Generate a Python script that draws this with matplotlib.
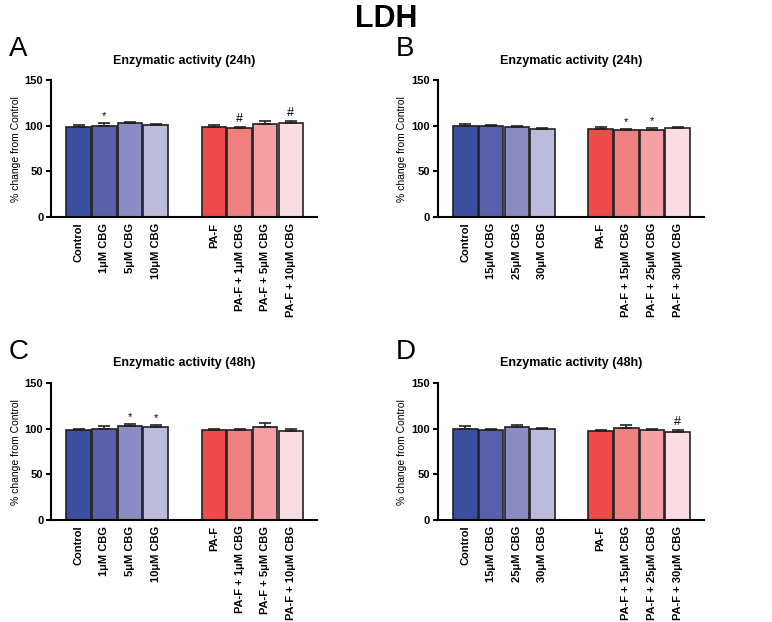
import matplotlib
matplotlib.use("Agg")
import matplotlib.pyplot as plt

plt.rcParams['font.family'] = 'Liberation Sans'
plt.rcParams['font.weight'] = 'bold'

labels_A = ["Control", "1μM CBG", "5μM CBG", "10μM CBG", "PA-F", "PA-F + 1μM CBG", "PA-F + 5μM CBG", "PA-F + 10μM CBG"]
labels_B = ["Control", "15μM CBG", "25μM CBG", "30μM CBG", "PA-F", "PA-F + 15μM CBG", "PA-F + 25μM CBG", "PA-F + 30μM CBG"]

vals_A = [99, 100, 103, 101, 99, 97.5, 102, 103]
err_A = [2, 3, 1, 1.5, 2, 1, 3, 2]
mark_A = ["", "*", "", "", "", "#", "", "#"]

vals_B = [100, 100, 98.5, 97, 97, 96, 96, 97.5]
err_B = [2, 1, 1, 1, 2, 1, 2, 1]
mark_B = ["", "", "", "", "", "*", "*", ""]

vals_C = [99, 100, 103, 102, 99, 99, 102, 98]
err_C = [1, 3, 2, 2, 1, 1, 4, 2]
mark_C = ["", "", "*", "*", "", "", "", ""]

vals_D = [100, 99, 102, 100, 98, 101, 99, 97]
err_D = [3, 1, 2, 1, 1, 3, 1, 1.5]
mark_D = ["", "", "", "", "", "", "", "#"]

colors = ["#3a4fa0", "#5a5fab", "#8a8cc2", "#bbbcdc", "#ee4a4a", "#f08080", "#f5a0a5", "#fadde0"]
pos = [0, 1, 2, 3, 5.27, 6.27, 7.27, 8.27]

fig = plt.figure(figsize=(7.72, 6.22), dpi=100)
fig.text(0.5, 0.97, "LDH", ha='center', va='center', fontsize=22, fontweight='bold')

panels = [
    ("A", "Enzymatic activity (24h)", labels_A, vals_A, err_A, mark_A, 0.066, 0.651),
    ("B", "Enzymatic activity (24h)", labels_B, vals_B, err_B, mark_B, 0.567, 0.651),
    ("C", "Enzymatic activity (48h)", labels_A, vals_C, err_C, mark_C, 0.066, 0.164),
    ("D", "Enzymatic activity (48h)", labels_B, vals_D, err_D, mark_D, 0.567, 0.164),
]
for letter, title, labels, vals, errs, marks, l, b in panels:
    ax = fig.add_axes([l, b, 0.345, 0.22])
    ax.bar(pos, vals, width=0.95, color=colors, edgecolor='#222222', linewidth=1.2)
    ax.errorbar(pos, vals, yerr=[[0]*8, errs], fmt='none', ecolor='#222222', capsize=4, elinewidth=1.2, capthick=1.2)
    for p, v, e, m in zip(pos, vals, errs, marks):
        if m:
            ax.text(p, v + e + 2, m, ha='center', va='bottom', fontsize=9 if m == '#' else 8, fontweight='normal')
    ax.set_xlim(-1.08, 9.3)
    ax.set_ylim(0, 150)
    ax.set_yticks([0, 50, 100, 150])
    ax.set_xticks(pos)
    ax.set_xticklabels(labels, rotation=90, fontsize=8)
    ax.tick_params(axis='x', length=0, pad=4)
    ax.tick_params(axis='y', labelsize=8, width=1.5, pad=2)
    for s in ['top', 'right']:
        ax.spines[s].set_visible(False)
    for s in ['left', 'bottom']:
        ax.spines[s].set_linewidth(1.5)
    ax.set_ylabel("% change from Control", fontsize=7.5, labelpad=3)
    ax.set_title(title, fontsize=9, fontweight='bold', pad=12)
    fig.text(l - 0.055, b + 0.27, letter, fontsize=20, fontweight='normal', va='center')

fig.savefig("out.png", dpi=100)
